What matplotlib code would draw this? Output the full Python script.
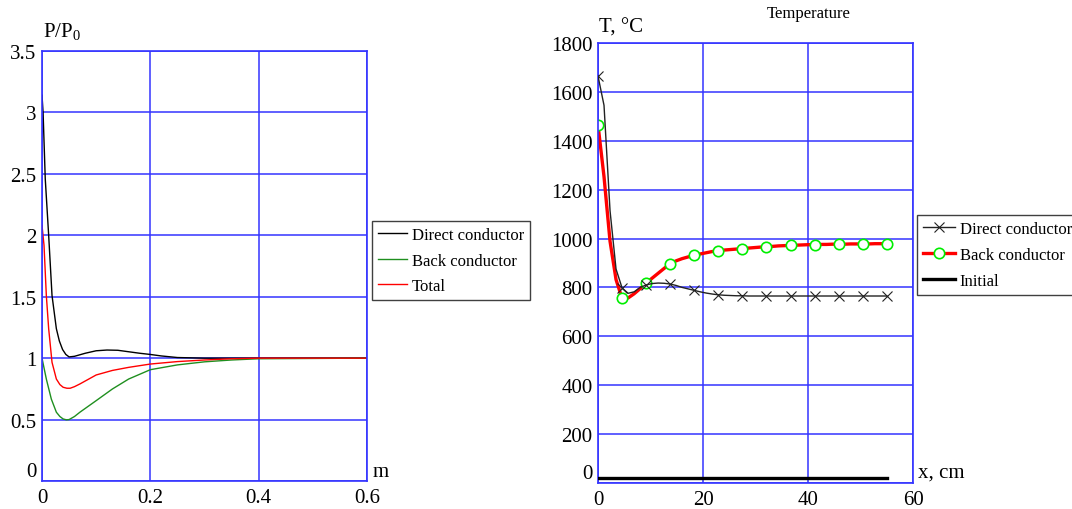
import numpy as np
import matplotlib
matplotlib.use("Agg")
import matplotlib.pyplot as plt

plt.rcParams['font.family'] = ['Liberation Serif', 'DejaVu Serif']
plt.rcParams['mathtext.fontset'] = 'custom'
plt.rcParams['mathtext.rm'] = 'Liberation Serif'
plt.rcParams['mathtext.it'] = 'Liberation Serif:italic'

# ---------------- Left chart data (P/P0 vs m) ----------------
x_direct_p = [0, 0.002, 0.006, 0.0123, 0.0185, 0.0265, 0.032, 0.038, 0.044, 0.05, 0.06, 0.08,
              0.1, 0.12, 0.14, 0.16, 0.18, 0.2, 0.22, 0.25, 0.3, 0.35, 0.4, 0.6]
direct_p = [3.14, 3.0, 2.46, 2.0, 1.51, 1.24, 1.14, 1.07, 1.03, 1.01, 1.015, 1.04,
            1.06, 1.066, 1.064, 1.052, 1.04, 1.03, 1.018, 1.005, 1.0, 1.0, 1.0, 1.0]

x_back_p = [0, 0.008, 0.0172, 0.0265, 0.033, 0.039, 0.045, 0.05, 0.06, 0.07, 0.1, 0.13, 0.16,
            0.2, 0.25, 0.3, 0.35, 0.4, 0.6]
back_p = [1.0, 0.83, 0.667, 0.56, 0.525, 0.505, 0.498, 0.5, 0.525, 0.56, 0.654, 0.749, 0.83,
          0.906, 0.945, 0.97, 0.985, 0.995, 1.0]

x_total_p = [0, 0.0037, 0.008, 0.0123, 0.0185, 0.0265, 0.033, 0.039, 0.046, 0.052, 0.06, 0.07,
             0.1, 0.13, 0.16, 0.2, 0.25, 0.3, 0.35, 0.4, 0.6]
total_p = [2.08, 1.92, 1.51, 1.24, 0.966, 0.83, 0.785, 0.763, 0.755, 0.755, 0.768, 0.79,
           0.863, 0.9, 0.925, 0.952, 0.972, 0.985, 0.995, 1.0, 1.0]

p_xticks = [0, 0.2, 0.4, 0.6]
p_xticklabels = ['0', '0.2', '0.4', '0.6']
p_yticks = [0, 0.5, 1, 1.5, 2, 2.5, 3, 3.5]
p_yticklabels = ['0', '0.5', '1', '1.5', '2', '2.5', '3', '3.5']

# ---------------- Right chart data (Temperature vs x, cm) ----------------
x_t = np.linspace(0, 55, 49)
direct_t = [1665, 1545, 1114, 875, 798, 776, 782, 800, 810, 816,
            818, 817, 814, 808, 800, 794, 788, 782, 777, 773,
            770, 768, 767, 766, 766, 765, 765, 765, 765, 765,
            765, 765, 765, 765, 765, 765, 765, 765, 765, 765,
            765, 765, 765, 765, 765, 765, 765, 765, 765]
back_t = [1465, 1253, 989, 832, 755, 757, 774, 795, 817, 838,
          858, 878, 897, 909, 918, 925, 931, 937, 942, 947,
          951, 953, 955, 957, 959, 961, 963, 965, 967, 968,
          970, 971, 972, 973, 974, 975, 975, 976, 976, 977,
          977, 977, 978, 978, 978, 978, 979, 979, 979]
x_init = [0, 55]
initial_t = [20, 20]

t_xticks = [0, 20, 40, 60]
t_xticklabels = ['0', '20', '40', '60']
t_yticks = list(range(0, 1801, 200))
t_yticklabels = [str(v) for v in t_yticks]

# ---------------- Figure ----------------
W, H = 1072, 510
fig = plt.figure(figsize=(W / 100, H / 100), dpi=100)

def fx(px):
    return px / W

def fy(py):
    return 1 - py / H

BLUE = '#3434ff'
TICK_FS = 15
LEG_FS = 12


def style_axes(ax):
    for s in ax.spines.values():
        s.set_color(BLUE)
        s.set_linewidth(1.2)
    ax.grid(True, color=BLUE, linewidth=1.1)
    ax.set_axisbelow(True)
    ax.tick_params(length=0, labelsize=TICK_FS, colors='black')
    ax.tick_params(axis='x', pad=5)
    ax.tick_params(axis='y', pad=4)


# Left axes
ax1 = fig.add_axes([fx(42), fy(482), fx(367) - fx(42), fy(52) - fy(482)])
style_axes(ax1)
ax1.plot(x_direct_p, direct_p, color='black', lw=1.0, label='Direct conductor')
ax1.plot(x_back_p, back_p, color='#1f8f1f', lw=1.0, label='Back conductor')
ax1.plot(x_total_p, total_p, color='red', lw=1.0, label='Total')
ax1.set_xlim(0, 0.6)
ax1.set_ylim(0, 3.5)
ax1.set_xticks(p_xticks)
ax1.set_xticklabels(p_xticklabels)
ax1.set_yticks(p_yticks)
ax1.set_yticklabels(p_yticklabels)
ax1.get_yticklabels()[0].set_verticalalignment('bottom')

leg1 = fig.legend(handles=ax1.get_lines(), loc='upper left',
                  bbox_to_anchor=(fx(372), fy(222)), fontsize=LEG_FS,
                  frameon=True, fancybox=False, framealpha=1,
                  edgecolor='#404040', handlelength=1.75, handletextpad=0.3,
                  borderpad=0.35, labelspacing=0.58, borderaxespad=0)
leg1.get_frame().set_linewidth(1.0)

# Right axes
ax2 = fig.add_axes([fx(598), fy(484), fx(913) - fx(598), fy(44) - fy(484)])
style_axes(ax2)
mk = list(range(0, len(x_t), 4))
ax2.plot(x_t, back_t, color='red', lw=2.4, marker='o', markevery=mk,
         ms=7.5, mfc='white', mec='#00ee00', mew=1.2,
         label='Back conductor', zorder=2.5)
ax2.plot(x_t, direct_t, color='#222222', lw=1.0, marker='x', markevery=mk,
         ms=7, mec='#222222', mew=0.8, label='Direct conductor', zorder=3)
ax2.plot(x_init, initial_t, color='black', lw=2.4, label='Initial', zorder=3)
ax2.set_xlim(0, 60)
ax2.set_ylim(6, 1800)
ax2.set_xticks(t_xticks)
ax2.set_xticklabels(t_xticklabels)
ax2.set_yticks(t_yticks)
ax2.set_yticklabels(t_yticklabels)
ax2.get_yticklabels()[0].set_verticalalignment('bottom')

lines2 = ax2.get_lines()
handles2 = [lines2[1], lines2[0], lines2[2]]
leg2 = fig.legend(handles=handles2, loc='upper left',
                  bbox_to_anchor=(fx(917), fy(216)), fontsize=LEG_FS,
                  frameon=True, fancybox=False, framealpha=1,
                  edgecolor='#404040', handlelength=1.9, handletextpad=0.3,
                  borderpad=0.35, labelspacing=0.6, borderaxespad=0,
                  numpoints=1)
leg2.get_frame().set_linewidth(1.0)

# Labels
fig.text(fx(43), fy(37), r'$\mathrm{P/P_0}$', fontsize=15, ha='left', va='baseline')
fig.text(fx(373), fy(477), 'm', fontsize=15, ha='left', va='baseline')
fig.text(fx(599), fy(33), 'T, °C', fontsize=15, ha='left', va='baseline')
fig.text(fx(918), fy(478), 'x, cm', fontsize=15, ha='left', va='baseline')
fig.text(fx(809), fy(14), 'Temperature', fontsize=12, ha='center', va='center')

fig.savefig('out.png', dpi=100)
